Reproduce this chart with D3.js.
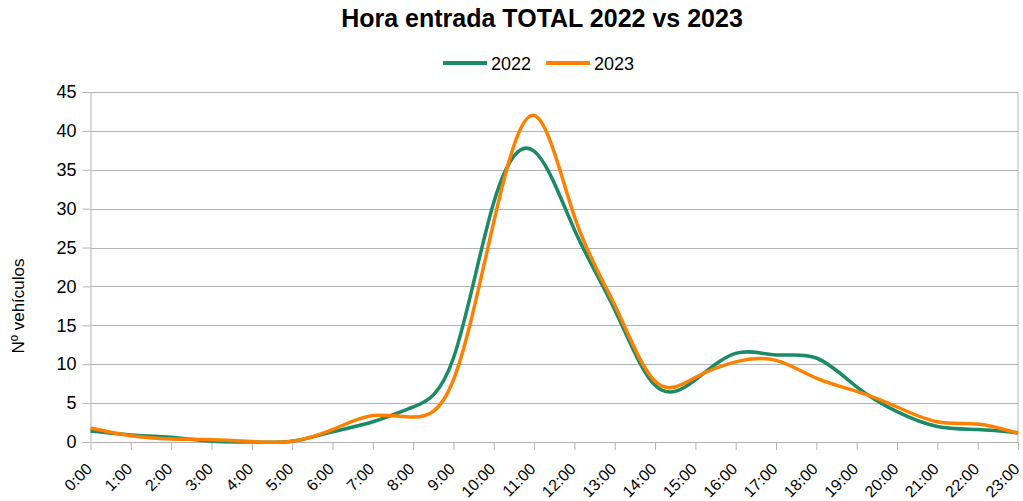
<!DOCTYPE html>
<html>
<head>
<meta charset="utf-8">
<title>Hora entrada</title>
<script src="https://d3js.org/d3.v7.min.js"></script>
<style>
body{margin:0;background:#fff;}
text{font-family:"Liberation Sans",Arial,sans-serif;fill:#000;}
</style>
</head>
<body>
<svg width="1023" height="501" id="mainsvg"></svg>
<script>
// datos
const horas=['0:00','1:00','2:00','3:00','4:00','5:00','6:00','7:00','8:00','9:00','10:00','11:00',
  '12:00','13:00','14:00','15:00','16:00','17:00','18:00','19:00','20:00','21:00','22:00','23:00'];
const v2022=[1.4,0.9,0.6,0.1,0,0.1,1.3,2.6,4.5,10.8,30.8,37.4,27.3,17.0,7.3,8.0,11.4,11.2,10.8,7.1,3.9,2.0,1.6,1.2];
const v2023=[1.8,0.8,0.4,0.3,0.05,0.1,1.6,3.4,3.2,8.0,28.3,42.0,29.0,17.6,7.8,8.3,10.3,10.5,8.2,6.5,4.5,2.6,2.3,1.1];
const yTicks=[0,5,10,15,20,25,30,35,40,45];
const series=[{name:'2022',values:v2022,color:'#1b8a66'},{name:'2023',values:v2023,color:'#ff8000'}];

const svg=d3.select('svg');
const width=+svg.attr('width');
const height=+svg.attr('height');
const margin={top:92,right:5,bottom:59,left:90.5};
const innerWidth=width-margin.left-margin.right;
const innerHeight=height-margin.top-margin.bottom;
const g=svg.append('g').attr('transform',`translate(${margin.left},${margin.top})`);

const x=d3.scalePoint().domain(horas).range([0,innerWidth]);
const y=d3.scaleLinear().domain([0,45]).range([innerHeight,0]);

// rejilla
g.selectAll('.grid').data(yTicks).enter().append('line')
  .attr('x1',0).attr('x2',innerWidth)
  .attr('y1',d=>Math.round(y(d))+0.5).attr('y2',d=>Math.round(y(d))+0.5)
  .attr('stroke','#b3b3b3').attr('stroke-width',1);
g.append('line').attr('x1',innerWidth).attr('x2',innerWidth).attr('y1',0).attr('y2',innerHeight)
  .attr('stroke','#b3b3b3');

const yaxis=d3.axisLeft(y).tickValues(yTicks).tickSize(8).tickPadding(6);
const ya=g.append('g').call(yaxis);
ya.selectAll('path,line').attr('stroke','#b3b3b3');
ya.selectAll('text').style('font-size','18px').attr('fill','#000');

const xaxis=d3.axisBottom(x).tickSize(8).tickFormat('');
const xa=g.append('g').attr('transform',`translate(0,${innerHeight})`).call(xaxis);
xa.selectAll('path,line').attr('stroke','#b3b3b3');
xa.select('.domain').attr('d',`M0,0.5H${innerWidth}`);

g.selectAll('.xlab').data(horas).enter().append('text')
  .attr('class','xlab')
  .attr('transform',d=>`translate(${x(d)+2.5},${innerHeight+28}) rotate(-45)`)
  .attr('text-anchor','end')
  .style('font-size','16px')
  .text(d=>d);

// lineas
const line=d3.line().x((d,i)=>x(horas[i])).y(d=>y(d)).curve(d3.curveNatural);
g.selectAll('.serie').data(series).enter().append('path')
  .attr('class','serie')
  .attr('d',d=>line(d.values))
  .attr('fill','none')
  .attr('stroke',d=>d.color)
  .attr('stroke-width',3.5)
  .attr('stroke-linejoin','round');

// titulo
svg.append('text').attr('x',542).attr('y',27).attr('text-anchor','middle')
  .style('font-size','25px').style('font-weight','bold')
  .text('Hora entrada TOTAL 2022 vs 2023');

// leyenda
const leg=svg.selectAll('.legend').data(series).enter().append('g')
  .attr('transform',(d,i)=>`translate(${443+i*103},63)`);
leg.append('line').attr('x1',0).attr('x2',44).attr('y1',0).attr('y2',0)
  .attr('stroke',d=>d.color).attr('stroke-width',4);
leg.append('text').attr('x',48).attr('y',7).style('font-size','18px').text(d=>d.name);

// titulo eje y
svg.append('text').attr('transform','translate(24,306) rotate(-90)')
  .attr('text-anchor','middle').style('font-size','17px').text('Nº vehículos');
</script>
</body>
</html>
